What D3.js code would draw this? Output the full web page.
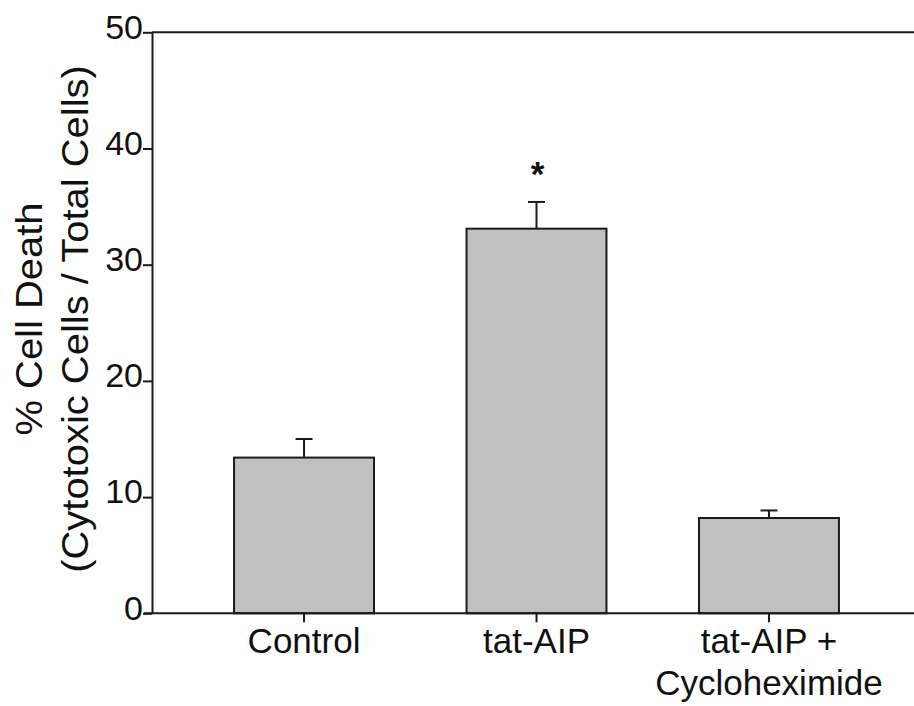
<!DOCTYPE html>
<html>
<head>
<meta charset="utf-8">
<script src="https://cdn.jsdelivr.net/npm/d3@7/dist/d3.min.js"></script>
<style>
  html, body { margin: 0; padding: 0; background: #fff; }
  svg { display: block; font-family: "Liberation Sans", Arial, sans-serif; }
</style>
</head>
<body>
<svg id="chart" width="914" height="706"></svg>
<script>
// Treatment groups (multi-line tick labels)
const categories = ["Control", "tat-AIP", "tat-AIP + Cycloheximide"];
const categoryLines = [["Control"], ["tat-AIP"], ["tat-AIP +", "Cycloheximide"]];
// Mean % cell death and SEM per group
const meanValues = [13.4, 33.1, 8.2];
const errorValues = [1.6, 2.3, 0.65];
const significance = ["", "*", ""];
const yTicks = [0, 10, 20, 30, 40, 50];
const yTitleLines = ["% Cell Death", "(Cytotoxic Cells / Total Cells)"];

const svg = d3.select("#chart");
const ink = "#1a1a1a";

const y = d3.scaleLinear().domain([0, 50]).range([613.3, 32.3]);
const x = d3.scaleBand().domain(categories).range([152, 921])
  .paddingInner(0.398).paddingOuter(0.353);

// Top frame line
svg.append("line")
  .attr("x1", 152).attr("x2", 914)
  .attr("y1", y(50)).attr("y2", y(50))
  .attr("stroke", ink).attr("stroke-width", 2);

// Bars
svg.append("g").selectAll("rect")
  .data(meanValues)
  .join("rect")
  .attr("x", (d, i) => x(categories[i]))
  .attr("width", x.bandwidth())
  .attr("y", d => y(d))
  .attr("height", d => y(0) - y(d))
  .attr("fill", "#c0c0c0")
  .attr("stroke", ink)
  .attr("stroke-width", 2);

// Error bars (upper only) with caps
const eb = svg.append("g").attr("stroke", ink).attr("stroke-width", 2);
meanValues.forEach((m, i) => {
  const cx = x(categories[i]) + x.bandwidth() / 2;
  eb.append("line").attr("x1", cx).attr("x2", cx)
    .attr("y1", y(m)).attr("y2", y(m + errorValues[i]));
  eb.append("line").attr("x1", cx - 8.5).attr("x2", cx + 8.5)
    .attr("y1", y(m + errorValues[i])).attr("y2", y(m + errorValues[i]));
});

// Significance markers
svg.append("g").selectAll("text")
  .data(significance)
  .join("text")
  .attr("x", (d, i) => x(categories[i]) + x.bandwidth() / 2 + 1)
  .attr("y", (d, i) => y(meanValues[i] + errorValues[i]) - 16)
  .attr("text-anchor", "middle")
  .attr("font-size", 35)
  .attr("font-weight", "bold")
  .attr("fill", "#111")
  .text(d => d);

// Y axis
const yAxis = svg.append("g")
  .attr("transform", "translate(152,0)")
  .call(d3.axisLeft(y).tickValues(yTicks).tickSize(9).tickPadding(0).tickSizeOuter(0));
yAxis.select(".domain").attr("stroke", ink).attr("stroke-width", 2);
yAxis.selectAll(".tick line").attr("stroke", ink).attr("stroke-width", 2);
yAxis.selectAll(".tick text")
  .attr("font-size", 34).attr("fill", "#111")
  .attr("font-family", "Liberation Sans, Arial, sans-serif")
  .attr("dy", "0.17em");

// X axis
const xAxis = svg.append("g")
  .attr("transform", `translate(0,${y(0)})`)
  .call(d3.axisBottom(x).tickSize(9).tickSizeOuter(0).tickFormat(""));
xAxis.select(".domain").attr("stroke", ink).attr("stroke-width", 2)
  .attr("d", "M144,0H914");
xAxis.selectAll(".tick line").attr("stroke", ink).attr("stroke-width", 2);

// Category labels
categoryLines.forEach((lines, i) => {
  const cx = x(categories[i]) + x.bandwidth() / 2;
  const t = svg.append("text")
    .attr("x", cx).attr("y", 653)
    .attr("text-anchor", "middle")
    .attr("font-size", 35).attr("fill", "#111");
  lines.forEach((ln, j) => {
    t.append("tspan").attr("x", cx).attr("dy", j === 0 ? 0 : 42).text(ln);
  });
});

// Y axis title (two lines, rotated, slightly stretched along its length)
const yt = svg.append("text")
  .attr("transform", "translate(42,319) rotate(-90) scale(1.08,1)")
  .attr("text-anchor", "middle")
  .attr("font-size", 37).attr("fill", "#111");
yTitleLines.forEach((ln, j) => {
  yt.append("tspan").attr("x", 0).attr("dy", j === 0 ? 0 : 46).text(ln);
});
</script>
</body>
</html>
